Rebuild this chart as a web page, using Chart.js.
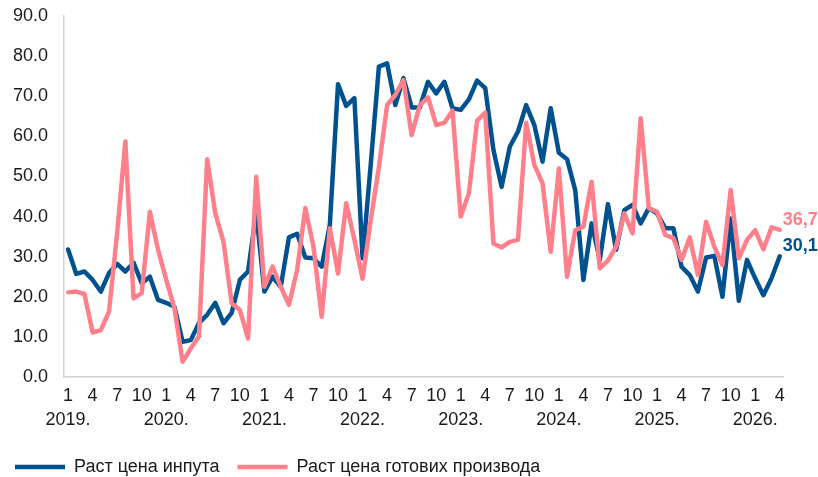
<!DOCTYPE html>
<html>
<head>
<meta charset="utf-8">
<script src="https://cdn.jsdelivr.net/npm/chart.js@4"></script>
<style>
  body { margin: 0; background: #fff; }
  #wrap { width: 818px; height: 477px; }
</style>
</head>
<body>
<div id="wrap"><canvas id="prices"></canvas></div>
<script>
// Tick labels
const years = ['2019.', '2020.', '2021.', '2022.', '2023.', '2024.', '2025.', '2026.'];
const shownMonths = [1, 4, 7, 10];
const monthCount = 88; // Jan 2019 - Apr 2026

// Series names
const inputName = 'Раст цена инпута';
const outputName = 'Раст цена готових производа';

// Input price growth, monthly
const inputGrowth = [
    31.8, 25.7, 26.3, 24.2, 21.3, 25.9, 28.2, 26.3, 28.5, 23.4, 25.0, 19.2,
    18.5, 17.5, 8.8, 9.2, 13.5, 15.5, 18.5, 13.4, 16.0, 24.2, 26.3, 41.0,
    21.3, 25.0, 22.5, 34.8, 35.7, 29.8, 29.6, 27.5, 37.9, 73.0, 67.6, 69.5,
    29.6, 53.0, 77.4, 78.2, 67.8, 74.5, 67.2, 67.2, 73.6, 70.7, 73.6, 67.0,
    66.6, 69.2, 73.9, 72.0, 56.6, 47.4, 57.4, 61.2, 67.8, 62.8, 53.7, 67.0,
    55.9, 54.3, 46.6, 24.2, 38.3, 29.2, 43.1, 31.7, 41.6, 42.9, 38.3, 42.1,
    40.8, 37.1, 37.1, 27.5, 25.4, 21.3, 29.8, 30.2, 20.0, 39.5, 19.0, 29.2,
    24.6, 20.4, 24.6, 30.1
];

// Finished goods price growth, monthly
const outputGrowth = [
    21.1, 21.3, 20.7, 11.1, 11.7, 16.3, 36.0, 58.7, 19.6, 20.9, 41.2, 31.7,
    24.2, 17.2, 3.8, 7.1, 10.1, 54.3, 40.8, 33.7, 18.4, 16.7, 9.6, 49.9,
    22.5, 27.5, 22.5, 18.0, 26.7, 42.1, 32.5, 15.0, 37.1, 25.8, 43.3, 34.2,
    24.5, 39.1, 52.4, 67.8, 70.3, 74.0, 60.3, 67.8, 69.7, 62.8, 63.4, 66.4,
    40.0, 45.8, 63.9, 65.9, 33.3, 32.3, 33.7, 34.2, 63.4, 52.9, 48.3, 31.2,
    52.0, 25.0, 36.6, 37.5, 48.7, 27.1, 29.0, 32.5, 40.8, 35.8, 64.5, 42.1,
    41.2, 35.4, 34.6, 29.2, 34.8, 25.4, 38.7, 32.5, 27.9, 46.6, 29.6, 34.2,
    36.6, 31.8, 37.3, 36.7
];

const BLUE = '#00528f';
const PINK = '#ff808b';
const FONT = "'Liberation Sans', Arial, sans-serif";
const TEXT = '#1a1a1a';

function toPoints(values) {
    return values.map((v, i) => ({ x: i, y: v }));
}

function tickLabel(i) {
    const month = i % 12 + 1;
    if (month === 1) return [String(month), years[Math.floor(i / 12)]];
    if (shownMonths.includes(month)) return String(month);
    return '';
}

// last value written next to the end of each line
const endLabels = {
    id: 'endLabels',
    afterDatasetsDraw(chart) {
        const ctx = chart.ctx;
        ctx.save();
        ctx.font = 'bold 18px ' + FONT;
        ctx.textBaseline = 'middle';
        ctx.textAlign = 'left';
        chart.data.datasets.forEach((ds, di) => {
            const meta = chart.getDatasetMeta(di);
            const pt = meta.data[meta.data.length - 1];
            const val = ds.data[ds.data.length - 1].y;
            ctx.fillStyle = ds.borderColor;
            ctx.fillText(val.toFixed(1).replace('.', ','), pt.x + 3, pt.y - 10);
        });
        ctx.restore();
    }
};

const ctx = document.getElementById('prices').getContext('2d');
new Chart(ctx, {
    type: 'line',
    data: {
        datasets: [
            {
                label: inputName,
                data: toPoints(inputGrowth),
                borderColor: BLUE,
                backgroundColor: BLUE,
                borderWidth: 4.5,
                pointRadius: 0,
                borderJoinStyle: 'round',
                borderCapStyle: 'round',
                order: 1,
            },
            {
                label: outputName,
                data: toPoints(outputGrowth),
                borderColor: PINK,
                backgroundColor: PINK,
                borderWidth: 4.5,
                pointRadius: 0,
                borderJoinStyle: 'round',
                borderCapStyle: 'round',
                order: 0,
            },
        ],
    },
    options: {
        responsive: true,
        maintainAspectRatio: false,
        animation: false,
        layout: { padding: { left: -3, right: 35, top: 0, bottom: -9 } },
        scales: {
            x: {
                type: 'linear',
                min: -0.5,
                max: 87.4,
                grid: { display: false, drawTicks: false },
                border: { display: true, color: '#d4d4d4', width: 1.5 },
                afterBuildTicks: scale => {
                    scale.ticks = Array.from({ length: monthCount }, (_, i) => ({ value: i }));
                },
                afterFit: scale => { scale.height = 63; },
                ticks: {
                    autoSkip: false,
                    maxRotation: 0,
                    padding: 8,
                    color: TEXT,
                    font: { family: FONT, size: 18, lineHeight: 1.28 },
                    callback: value => tickLabel(value),
                },
            },
            y: {
                min: 0,
                max: 90,
                grid: { display: false, drawTicks: false },
                border: { display: true, color: '#d4d4d4', width: 1.5 },
                afterFit: scale => {
                    scale.width = 67;
                    scale.paddingTop = 16; // keep 90.0 near the top edge
                },
                ticks: {
                    stepSize: 10,
                    padding: 16,
                    color: TEXT,
                    font: { family: FONT, size: 18 },
                    callback: value => value.toFixed(1),
                },
            },
        },
        plugins: {
            tooltip: { enabled: false },
            legend: {
                position: 'bottom',
                align: 'start',
                labels: {
                    usePointStyle: true,
                    pointStyle: 'line',
                    pointStyleWidth: 50,
                    padding: 18,
                    color: TEXT,
                    font: { family: FONT, size: 18 },
                    sort: (a, b) => a.datasetIndex - b.datasetIndex,
                },
            },
        },
    },
    plugins: [endLabels],
});
</script>
</body>
</html>
